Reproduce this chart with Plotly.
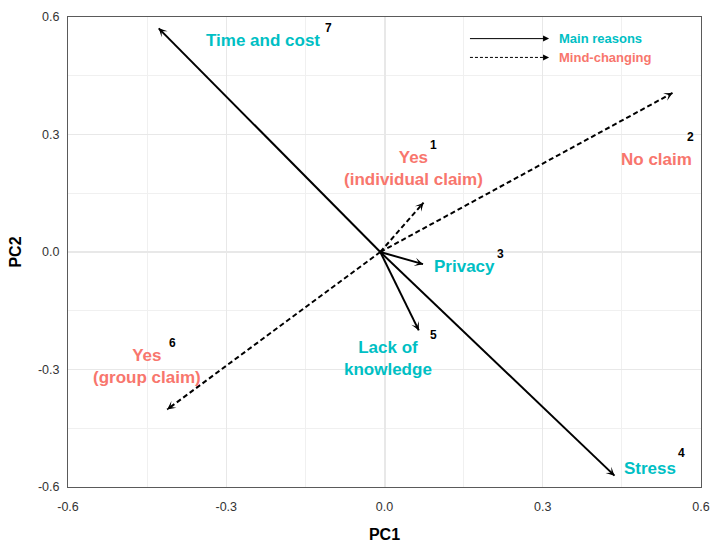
import math
import plotly.graph_objects as go

# PCA loadings of the survey items (PC1, PC2)
item_ids = [1, 2, 3, 4, 5, 6, 7]
item_labels = [
    "Yes<br>(individual claim)",
    "No claim",
    "Privacy",
    "Stress",
    "Lack of<br>knowledge",
    "Yes<br>(group claim)",
    "Time and cost",
]
item_groups = [
    "Mind-changing",
    "Mind-changing",
    "Main reasons",
    "Main reasons",
    "Main reasons",
    "Mind-changing",
    "Main reasons",
]
pc1 = [0.074, 0.546, 0.073, 0.436, 0.065, -0.412, -0.428]
pc2 = [0.126, 0.406, -0.031, -0.571, -0.200, -0.402, 0.571]

# common tail point of the loading arrows
origin_pc1 = -0.008
origin_pc2 = 0.0

# axis ticks
tick_vals = [-0.6, -0.3, 0.0, 0.3, 0.6]
tick_text = ["-0.6", "-0.3", "0.0", "0.3", "0.6"]
minor_vals = [-0.45, -0.15, 0.15, 0.45]

# label placement (data units): name text and its superscript index
label_pos = [
    (0.055, 0.212),
    (0.516, 0.235),
    (0.152, -0.038),
    (0.504, -0.552),
    (0.007, -0.271),
    (-0.451, -0.292),
    (-0.231, 0.541),
]
index_pos = [
    (0.092, 0.273),
    (0.580, 0.293),
    (0.220, -0.006),
    (0.563, -0.513),
    (0.092, -0.213),
    (-0.402, -0.233),
    (-0.106, 0.571),
]

GROUP_COLOR = {"Main reasons": "#00BFC4", "Mind-changing": "#F8766D"}
GROUP_DASH = {"Main reasons": "solid", "Mind-changing": "5px,3px"}
FONT = "Arial, 'Liberation Sans', sans-serif"

W, H = 711, 543
M = dict(l=68, r=10, t=17, b=56)
# pixel scale of each axis (used only to orient arrowheads)
px_x = (W - M["l"] - M["r"]) / 1.2
px_y = (H - M["t"] - M["b"]) / 1.2


def head(x, y, xref, yref, ux, uy, size, width):
    """Arrowhead only: a very short annotation arrow ending at (x, y)."""
    return dict(
        x=x, y=y, xref=xref, yref=yref,
        ax=-ux * 4, ay=uy * 4, axref="pixel", ayref="pixel",
        showarrow=True, arrowhead=3 if width > 1 else 2,
        arrowsize=size, arrowwidth=width,
        arrowcolor="black", standoff=0, startstandoff=0,
        text="", font=dict(size=1), borderpad=0,
    )


fig = go.Figure()
annotations = []

for i in range(len(item_ids)):
    g = item_groups[i]
    fig.add_trace(go.Scatter(
        x=[origin_pc1, pc1[i]], y=[origin_pc2, pc2[i]],
        mode="lines",
        line=dict(color="black", width=2, dash=GROUP_DASH[g]),
        hoverinfo="skip", showlegend=False,
    ))
    dx = (pc1[i] - origin_pc1) * px_x
    dy = (pc2[i] - origin_pc2) * px_y
    n = math.hypot(dx, dy)
    annotations.append(head(pc1[i], pc2[i], "x", "y", dx / n, dy / n, 0.7, 2))
    lx, ly = label_pos[i]
    annotations.append(dict(
        x=lx, y=ly, xref="x", yref="y", showarrow=False,
        text="<b>%s</b>" % item_labels[i], align="center",
        font=dict(family=FONT, size=17, color=GROUP_COLOR[g]),
    ))
    nx, ny = index_pos[i]
    annotations.append(dict(
        x=nx, y=ny, xref="x", yref="y", showarrow=False,
        text="<b>%d</b>" % item_ids[i],
        font=dict(family=FONT, size=12, color="black"),
    ))

# key for the two arrow styles
key_x0, key_x1 = 0.635, 0.760
key_rows = [("Main reasons", 0.954), ("Mind-changing", 0.914)]
shapes = []
for name, ky in key_rows:
    shapes.append(dict(
        type="line", xref="paper", yref="paper",
        x0=key_x0, x1=key_x1 - 0.004, y0=ky, y1=ky,
        line=dict(color="black", width=1,
                  dash="solid" if name == "Main reasons" else "3px,2px"),
    ))
    annotations.append(head(key_x1, ky, "paper", "paper", 1, 0, 1.2, 1))
    annotations.append(dict(
        x=key_x1 + 0.012, y=ky, xref="paper", yref="paper",
        xanchor="left", yanchor="middle", showarrow=False,
        text="<b>%s</b>" % name,
        font=dict(family=FONT, size=13, color=GROUP_COLOR[name]),
    ))

axis_common = dict(
    range=[-0.6, 0.6],
    tickvals=tick_vals, ticktext=tick_text,
    tickfont=dict(family=FONT, size=12.5, color="#333333"),
    ticks="outside", tickcolor="rgba(0,0,0,0)",
    showgrid=True, gridcolor="#E8E8E8", gridwidth=1,
    minor=dict(tickvals=minor_vals, showgrid=True, gridcolor="#F0F0F0", gridwidth=1),
    zeroline=True, zerolinecolor="#E8E8E8", zerolinewidth=1.5,
    showline=True, linecolor="#5A5A5A", linewidth=1, mirror=True,
    automargin=False, fixedrange=True,
)

fig.update_layout(
    width=W, height=H, margin=M,
    paper_bgcolor="white", plot_bgcolor="white",
    showlegend=False,
    xaxis=dict(axis_common, ticklen=8,
               title=dict(text="<b>PC1</b>", standoff=18,
                          font=dict(family=FONT, size=16, color="black"))),
    yaxis=dict(axis_common, ticklen=5,
               title=dict(text="<b>PC2</b>", standoff=12,
                          font=dict(family=FONT, size=16, color="black"))),
    annotations=annotations,
    shapes=shapes,
)

fig.write_html("out.html")
